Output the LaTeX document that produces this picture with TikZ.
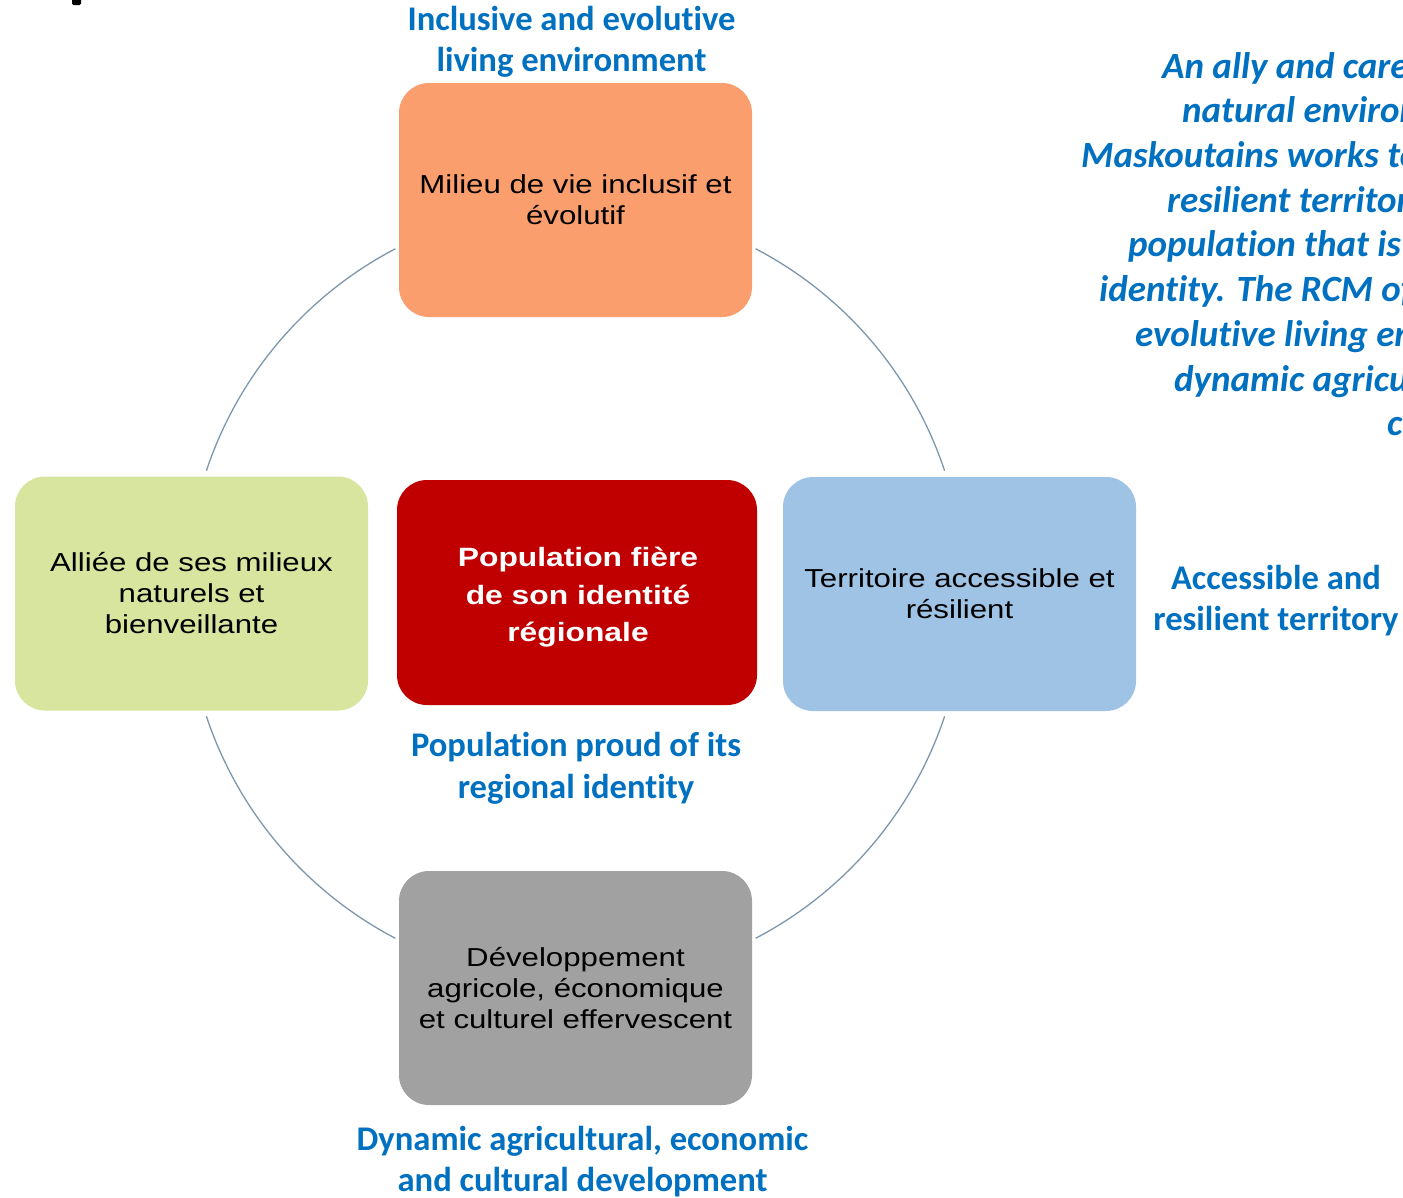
\documentclass[tikz,border=0pt]{standalone}
\usepackage{fontspec}
\setmainfont{Liberation Sans}
\newfontfamily\boxfont[FakeStretch=1.2]{Liberation Sans}
\newfontfamily\calfont[Ligatures=NoCommon]{Carlito}
\definecolor{lblue}{HTML}{0070C0}
\definecolor{corange}{HTML}{FA9E6E}
\definecolor{cgreen}{HTML}{D7E59F}
\definecolor{cblue}{HTML}{9FC3E5}
\definecolor{cred}{HTML}{C00000}
\definecolor{cgrey}{HTML}{A1A1A1}
\definecolor{ringc}{HTML}{7D97AE}
\begin{document}
\begin{tikzpicture}[x=1pt,y=-1pt,
  box/.style={rectangle, rounded corners=30pt, minimum width=353pt, minimum height=234pt,
    inner sep=0pt, align=center, text=black, font=\boxfont\fontsize{26}{31}\selectfont},
  midtext/.style={inner sep=0pt, align=center, text=white, font=\boxfont\bfseries\fontsize{26.5}{37.5}\selectfont},
  lbl/.style={anchor=base, text=lblue, inner sep=0pt, font=\calfont\bfseries\fontsize{34.6}{41}\selectfont},
  itl/.style={anchor=base west, text=lblue, inner sep=0pt, font=\calfont\bfseries\itshape\fontsize{37}{44}\selectfont},
  ring/.style={draw=ringc, line width=1.3pt}]
\useasboundingbox (0,0) rectangle (1403,1197);
\fill[white] (0,0) rectangle (1403,1197);
% cut-off mark at top left
\fill[black, rounded corners=1.5pt] (72,-3) rectangle (81,5);
% ring
\coordinate (c) at (575.5,593.5);
\draw[ring] (c) ++(18.4:389) arc[start angle=18.4, end angle=62.4, radius=389];
\draw[ring] (c) ++(117.6:389) arc[start angle=117.6, end angle=161.6, radius=389];
\draw[ring] (c) ++(198.4:389) arc[start angle=198.4, end angle=242.4, radius=389];
\draw[ring] (c) ++(297.6:389) arc[start angle=297.6, end angle=341.6, radius=389];
% boxes
\node[box, fill=corange] (top) at (575.5,200) {Milieu de vie inclusif et\\évolutif};
\node[box, fill=cgreen] (left) at (191.5,593.5) {Alliée de ses milieux\\naturels et\\bienveillante};
\node[box, fill=cblue] (right) at (959.5,594) {Territoire accessible et\\résilient};
\node[box, fill=cgrey] (bottom) at (575.5,988) {Développement\\agricole, économique\\et culturel effervescent};
\node[box, fill=cred, minimum width=360pt, minimum height=225pt] (mid) at (577,592.5) {};
\node[midtext] (midtxt) at (578,597.5) {Population fière\\de son identité\\régionale};
% blue labels
\node[lbl] (t1) at (571.5,30) {Inclusive and evolutive};
\node[lbl] (t2) at (571.5,71) {living environment};
\node[lbl] (r1) at (1276,589) {Accessible and};
\node[lbl] (r2) at (1276,630) {resilient territory};
\node[lbl] (m1) at (576,756) {Population proud of its};
\node[lbl] (m2) at (576,798) {regional identity};
\node[lbl] (b1) at (582.5,1150) {Dynamic agricultural, economic};
\node[lbl] (b2) at (582.5,1191) {and cultural development};
% italic statement (cut at the right edge)
\node[itl] (i1) at (1162,78) {An ally and care};
\node[itl] (i2) at (1182,122.7) {natural environ};
\node[itl] (i3) at (1081,167.4) {Maskoutains works to};
\node[itl] (i4) at (1167,212) {resilient territor};
\node[itl] (i5) at (1128,256.8) {population that is};
\node[itl] (i6) at (1099,301.5) {identity. The RCM of};
\node[itl] (i7) at (1135,346.2) {evolutive living en};
\node[itl] (i8) at (1174,391) {dynamic agricul};
\node[itl] (i9) at (1387,435.6) {cu};
\end{tikzpicture}
\end{document}
